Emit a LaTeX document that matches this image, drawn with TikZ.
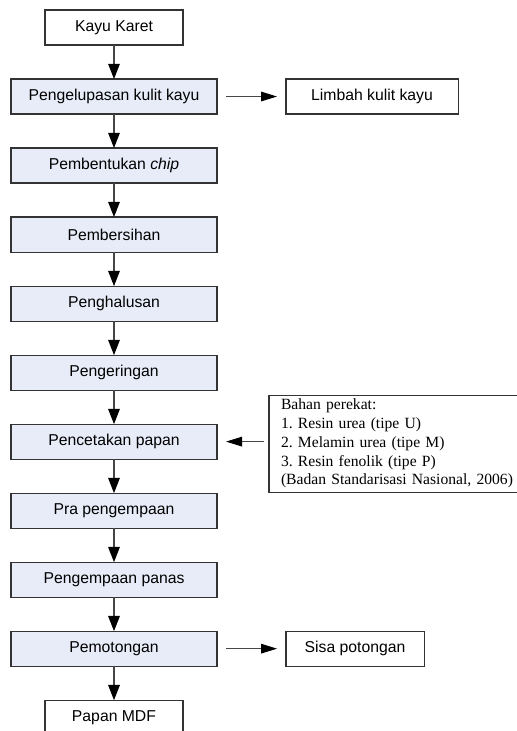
\documentclass[tikz,border=0pt]{standalone}
\usepackage{fontspec}
\setmainfont{Liberation Serif}
\setsansfont{Liberation Sans}
\usepackage{tikz}
\usetikzlibrary{arrows.meta, positioning}
\definecolor{boxfill}{RGB}{232, 236, 248}
\definecolor{edgegray}{RGB}{51, 51, 51}
\definecolor{linegray}{RGB}{70, 70, 70}
\frenchspacing

\begin{document}
\begin{tikzpicture}[
    x=0.025cm, y=-0.025cm,
    node distance=0.85cm and 1.725cm,
    process/.style={rectangle, minimum width=5.15cm, minimum height=0.875cm, outer sep=0pt, text centered, draw=edgegray, line width=0.8pt, fill=boxfill, font=\sffamily\fontsize{11.2}{13}\selectfont},
    endbox/.style={rectangle, minimum width=3.45cm, minimum height=0.875cm, outer sep=0pt, text centered, draw=edgegray, line width=0.8pt, fill=white, font=\sffamily\fontsize{11.2}{13}\selectfont},
    note/.style={rectangle, text width=6.1cm, inner xsep=0.3cm, inner ysep=0.1cm, outer sep=0pt, align=left, draw=edgegray, line width=0.8pt, fill=white, font=\rmfamily\fontsize{11.1}{13.3}\selectfont},
    arrow/.style={line width=0.8pt, draw=linegray, -{Triangle[length=0.38cm, width=0.29cm, color=black]}},
    sidearrow/.style={line width=0.8pt, draw=linegray, -{Triangle[length=0.4cm, width=0.24cm, color=black]}, shorten >=0.225cm, shorten <=0.225cm}
]
\useasboundingbox (0,0) rectangle (517,731);

% Main flow
\node (kayu) [endbox] at (114,27.5) {Kayu Karet};
\node (kulit) [process, below=of kayu] {Pengelupasan kulit kayu};
\node (chip) [process, below=of kulit] {Pembentukan \textit{chip}};
\node (bersih) [process, below=of chip] {Pembersihan};
\node (halus) [process, below=of bersih] {Penghalusan};
\node (kering) [process, below=of halus] {Pengeringan};
\node (cetak) [process, below=of kering] {Pencetakan papan};
\node (pra) [process, below=of cetak] {Pra pengempaan};
\node (panas) [process, below=of pra] {Pengempaan panas};
\node (potong) [process, below=of panas] {Pemotongan};
\node (mdf) [endbox, below=of potong] {Papan MDF};

% Side outputs
\node (limbah) [endbox, minimum width=4.3cm, right=of kulit, anchor=west] {Limbah kulit kayu};
\node (sisa) [endbox, right=of potong, anchor=west] {Sisa potongan};
\node (perekat) [note, right=1.3cm of cetak, anchor=west, yshift=-0.05cm] {Bahan perekat:\\
1. Resin urea (tipe U)\\
2. Melamin urea (tipe M)\\
3. Resin fenolik (tipe P)\\
(Badan Standarisasi Nasional, 2006)};

% Arrows main flow
\draw [arrow] (kayu) -- (kulit);
\draw [arrow] (kulit) -- (chip);
\draw [arrow] (chip) -- (bersih);
\draw [arrow] (bersih) -- (halus);
\draw [arrow] (halus) -- (kering);
\draw [arrow] (kering) -- (cetak);
\draw [arrow] (cetak) -- (pra);
\draw [arrow] (pra) -- (panas);
\draw [arrow] (panas) -- (potong);
\draw [arrow] (potong) -- (mdf);

% Arrows side
\draw [sidearrow] (kulit) -- (limbah);
\draw [sidearrow] (potong) -- (sisa);
\draw [sidearrow, shorten <=0.125cm] (perekat.west |- cetak) -- (cetak);

\end{tikzpicture}
\end{document}
